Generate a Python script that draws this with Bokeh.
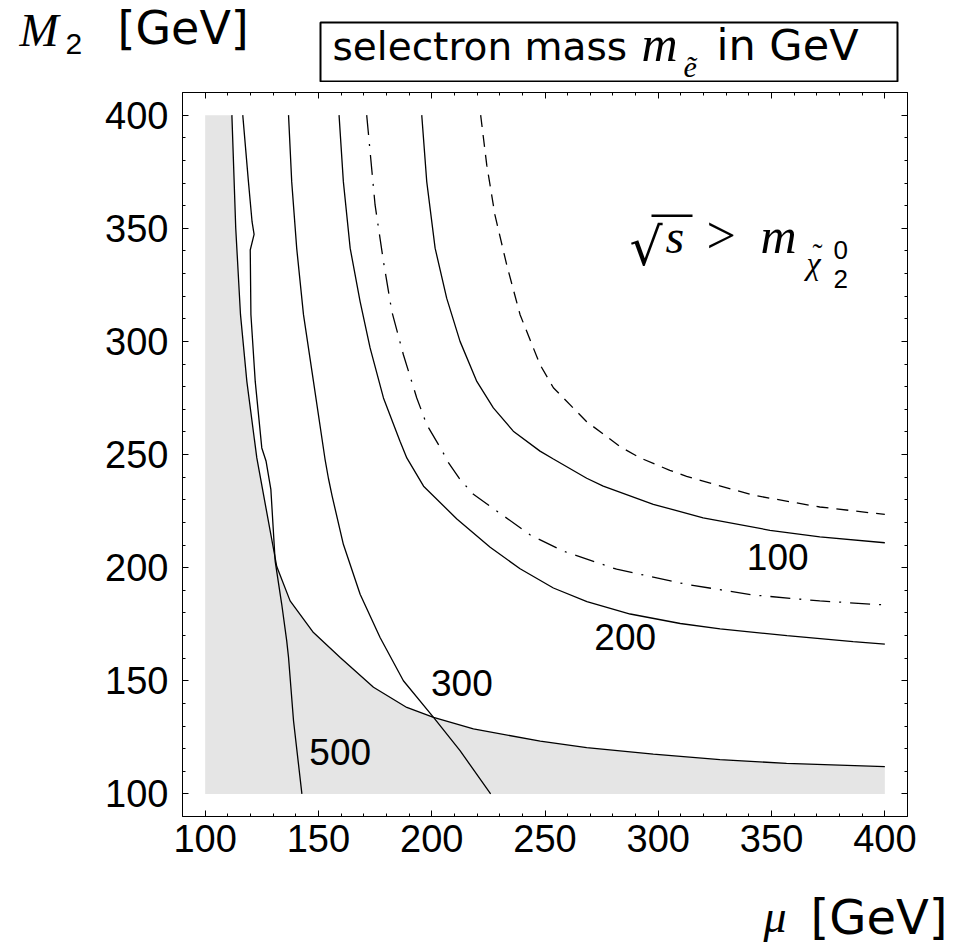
from bokeh.plotting import figure
from bokeh.layouts import column
from bokeh.models import Range1d, LinearAxis, FixedTicker, BoxAnnotation, CustomJSTickFormatter, ColumnDataSource
from bokeh.core.properties import value
from bokeh.embed import file_html
from bokeh.resources import INLINE

# ---------------- data ----------------
major_ticks = [100, 150, 200, 250, 300, 350, 400]
minor_ticks = [110, 120, 130, 140, 160, 170, 180, 190, 210, 220, 230, 240, 260, 270, 280, 290,
               310, 320, 330, 340, 360, 370, 380, 390]

# kinematic limit (boundary of the grey region)
limit_mu = [111.8, 113.5, 115.6, 118.4, 122.8, 128.7, 131.6, 137.5, 147.8, 159.6, 174.3, 189.0,
            200.8, 218.4, 247.9, 268.4, 297.8, 327.2, 356.6, 400.0]
limit_m2 = [400.0, 350.0, 311.8, 282.3, 248.5, 216.2, 200.5, 185.3, 171.3, 160.3, 147.1, 138.2,
            133.8, 128.7, 123.3, 120.4, 117.6, 115.1, 113.5, 112.0]

c500_mu = [116.6, 119.1, 120.7, 121.6, 119.9, 120.2, 122.1, 125.0, 126.9, 129.0, 130.9, 133.8,
           136.0, 136.8, 139.0, 142.7]
c500_m2 = [400.0, 370.6, 352.9, 347.3, 340.4, 311.8, 282.3, 252.9, 247.0, 234.6, 202.9, 183.8,
           167.6, 160.3, 132.3, 100.0]

c300_mu = [136.8, 138.2, 140.4, 143.4, 147.8, 152.9, 154.4, 156.0, 161.0, 168.4, 177.2, 187.5,
           200.8, 212.5, 226.0]
c300_m2 = [400.0, 370.6, 341.2, 311.8, 282.3, 248.0, 239.5, 231.8, 210.3, 188.2, 169.1, 150.0,
           133.8, 119.1, 100.0]

c200_mu = [159.1, 161.0, 164.0, 168.4, 172.8, 178.7, 186.0, 189.0, 196.4, 211.1, 225.8, 239.0,
           253.7, 268.5, 287.6, 309.7, 327.3, 356.8, 386.0, 400.0]
c200_m2 = [400.0, 370.6, 341.2, 317.6, 297.1, 275.0, 255.9, 248.5, 236.0, 221.5, 209.0, 199.5,
           191.0, 185.0, 179.5, 175.3, 172.9, 169.9, 167.3, 166.2]

c100_mu = [195.6, 197.8, 201.5, 206.6, 212.5, 219.9, 227.2, 236.0, 247.8, 253.7, 268.4, 275.7,
           297.8, 319.8, 349.3, 371.3, 400.0]
c100_m2 = [400.0, 370.6, 341.2, 319.1, 300.0, 282.3, 270.6, 260.3, 251.5, 248.0, 239.5, 236.0,
           228.0, 222.0, 216.5, 213.6, 211.0]

dashdot_mu = [171.3, 175.0, 178.7, 182.4, 187.5, 193.4, 197.8, 204.4, 207.3, 212.5, 218.4, 243.4,
              258.1, 281.6, 312.5, 341.9, 371.3, 400.0]
dashdot_m2 = [400.0, 360.3, 335.3, 313.2, 294.1, 275.0, 263.2, 252.0, 246.5, 239.0, 232.4, 214.5,
              207.3, 199.3, 192.6, 187.9, 185.3, 183.5]

dashed_mu = [221.6, 224.3, 227.9, 233.1, 239.0, 247.8, 253.7, 268.4, 283.1, 292.0, 305.1, 312.5,
             341.9, 371.3, 400.0]
dashed_m2 = [400.0, 377.9, 355.9, 333.8, 311.8, 289.7, 279.5, 264.5, 253.5, 248.5, 243.0, 240.3,
             232.0, 226.8, 223.5]

contour_labels = ["100", "200", "300", "500"]
contour_label_mu = [352.7, 285.4, 213.3, 159.6]
contour_label_m2 = [204.8, 169.5, 148.9, 118.5]

mu_min, mu_max = 100, 400
m2_min, m2_max = 100, 400

# ---------------- layout geometry (page pixels) ----------------
W = 966
TOP_H = 82              # strip above the plot (y title, caption box)
FW, FH = 725, 724
LEFT, RIGHT = 182, W - 182 - FW
MAIN_TOP, MAIN_BOTTOM = 10, 60
BOT_H = 72
FRAME_X0 = LEFT
FRAME_Y1 = TOP_H + MAIN_TOP + FH      # page y of frame bottom
BOT_Y0 = TOP_H + MAIN_TOP + FH + MAIN_BOTTOM
K = 0.33                # baseline correction (fraction of font size)

# ---------------- main figure ----------------
p = figure(frame_width=FW, frame_height=FH,
           x_range=Range1d(90, 410), y_range=Range1d(90, 410),
           output_backend="svg", toolbar_location=None,
           min_border_left=LEFT, min_border_right=RIGHT, min_border_top=MAIN_TOP,
           min_border_bottom=MAIN_BOTTOM, frame_align=False,
           background_fill_color="white", border_fill_color="white")
p.grid.visible = False
p.outline_line_color = "black"
p.outline_line_width = 1

ticker = FixedTicker(ticks=major_ticks, minor_ticks=minor_ticks)

def style_axis(ax, labels=True):
    ax.ticker = ticker
    ax.axis_line_color = "black"
    ax.axis_line_width = 1
    ax.major_tick_in = 6
    ax.major_tick_out = 0
    ax.minor_tick_in = 3
    ax.minor_tick_out = 0
    ax.major_tick_line_color = "black"
    ax.minor_tick_line_color = "black"
    ax.major_label_text_font = "Liberation Sans"
    ax.major_label_text_font_size = "38px"
    ax.major_label_text_color = "black"
    if not labels:
        ax.formatter = CustomJSTickFormatter(code="return ''")
        ax.major_label_text_font_size = "1px"
        ax.major_label_standoff = 0

style_axis(p.xaxis[0])
style_axis(p.yaxis[0])
p.xaxis[0].major_label_standoff = 8
p.yaxis[0].major_label_standoff = 14
top_ax = LinearAxis()
right_ax = LinearAxis()
style_axis(top_ax, labels=False)
style_axis(right_ax, labels=False)
p.add_layout(top_ax, "above")
p.add_layout(right_ax, "right")

# grey region below the kinematic limit
shade_x = [mu_min, mu_min] + limit_mu + [mu_max]
shade_y = [m2_min, m2_max] + limit_m2 + [m2_min]
p.patch(shade_x, shade_y, fill_color="#e5e5e5", line_color=None)

LW = 1.3
for xs, ys in [(limit_mu, limit_m2), (c500_mu, c500_m2), (c300_mu, c300_m2),
               (c200_mu, c200_m2), (c100_mu, c100_m2)]:
    p.line(xs, ys, line_color="black", line_width=LW)
p.line(dashdot_mu, dashdot_m2, line_color="black", line_width=LW, line_dash="20 9 2 9")
p.line(dashed_mu, dashed_m2, line_color="black", line_width=LW, line_dash="12 8")

src = ColumnDataSource(dict(x=contour_label_mu, y=contour_label_m2, t=contour_labels))
p.text(x="x", y="y", text="t", source=src, text_font=value("Liberation Sans"),
       text_font_size="37px", text_align="center", text_baseline="middle", text_color="black")

SANS = "DejaVu Sans"
SERIF = "Liberation Serif"

def dx(X):
    return 90 + (X - FRAME_X0) * 320.0 / FW
def dy(Y):
    return 90 + (FRAME_Y1 - Y) * 320.0 / FH

def put(fig, x, y, text, font, size, style):
    fig.text(x=[x], y=[y], text=[text], text_font=value(font), text_font_size=value("%gpx" % size),
             text_font_style=value(style), text_align="left", text_baseline="alphabetic",
             text_color="black")

def txt_main(X, Y, text, font, size, style="normal", corr=True):
    Yc = Y - K * size if corr else Y
    put(p, dx(X), dy(Yc), text, font, size, style)

def txt_strip(fig, y0, X, Y, text, font, size, style="normal"):
    put(fig, X, Y - y0 - K * size, text, font, size, style)

# sqrt(s) > m_chi  (inside the frame)
txt_main(629, 246, "\u221a", "DejaVu Serif", 52, corr=False)
p.add_layout(BoxAnnotation(left=dx(651), right=dx(692), top=dy(214), bottom=dy(216.5),
                           fill_color="black", fill_alpha=1, line_color=None))
txt_main(665, 252, "s", SERIF, 48, "italic")
txt_main(706, 252, ">", SERIF, 52)
txt_main(760, 252, "m", SERIF, 50, "italic")
txt_main(806, 273, "\u03c7", SERIF, 32, "italic")
txt_main(812, 263, "\u02dc", SERIF, 30)
txt_main(833, 258, "0", "Liberation Sans", 26)
txt_main(833, 287, "2", "Liberation Sans", 26)

# ---------------- strips above / below (hold the titles) ----------------
def strip(h):
    s = figure(width=W, height=h, x_range=Range1d(0, W), y_range=Range1d(h, 0),
               output_backend="svg", toolbar_location=None, min_border=0,
               x_axis_location=None, y_axis_location=None, frame_align=False,
               background_fill_color="white", border_fill_color="white")
    s.grid.visible = False
    s.outline_line_color = None
    return s

top = strip(TOP_H)
bot = strip(BOT_H)

# y-axis title
txt_strip(top, 0, 19, 45, "M", SERIF, 47, "italic")
txt_strip(top, 0, 65, 53, "2", "Liberation Sans", 30)
txt_strip(top, 0, 117, 43, "[GeV]", SANS, 46)
# boxed caption
top.add_layout(BoxAnnotation(left=320, right=897, top=22, bottom=81,
                             fill_color=None, line_color="black", line_alpha=1, line_width=2))
txt_strip(top, 0, 332, 59, "selectron mass", SANS, 39)
txt_strip(top, 0, 641, 60, "m", SERIF, 50, "italic")
txt_strip(top, 0, 683, 76, "\u1ebd", SERIF, 30, "italic")
txt_strip(top, 0, 716, 59, "in GeV", SANS, 43)
# x-axis title
txt_strip(bot, BOT_Y0, 763, 931, "\u03bc", SERIF, 46, "italic")
txt_strip(bot, BOT_Y0, 810, 932, "[GeV]", SANS, 48)

layout = column(top, p, bot, spacing=0)
open("out.html", "w").write(file_html(layout, INLINE))
